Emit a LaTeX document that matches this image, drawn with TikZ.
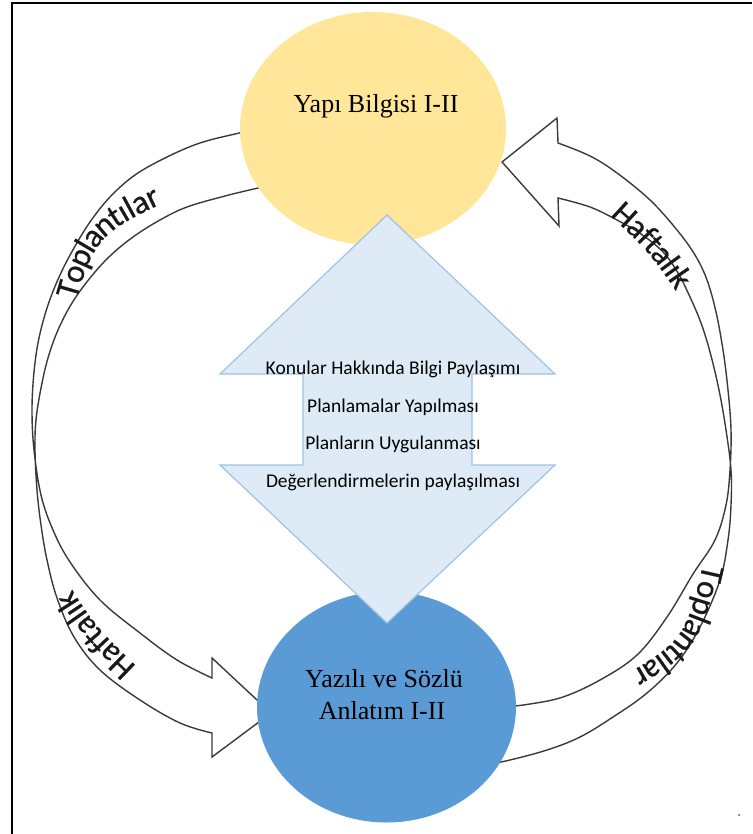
\documentclass[tikz,border=0pt]{standalone}
\usepackage{fontspec}
\setmainfont{Liberation Serif}
\newfontfamily\calfont{Carlito}
\newfontfamily\bandfont{Carlito}[FakeBold=0.6]
\usetikzlibrary{shapes.geometric,decorations.text}

\definecolor{sunny}{HTML}{FFE699}
\definecolor{ocean}{HTML}{5B9BD5}
\definecolor{paleblue}{HTML}{DEEBF7}
\definecolor{paleedge}{HTML}{9DC3E6}
\definecolor{inkline}{HTML}{3A3A3A}

\tikzset{
  course/.style={ellipse, inner sep=0pt, draw=none},
  coursetext/.style={anchor=base, inner sep=0pt, font=\fontsize{26}{30}\selectfont},
  steptext/.style={anchor=base, inner sep=0pt, font=\calfont\fontsize{19.5}{23}\selectfont},
  band/.style={draw=inkline, line width=1.4pt, line join=miter},
  bandword/.style={decorate, decoration={text along path, text align=center,
      raise=-11pt, text color=black!90}},
  sharearrow/.style={fill=paleblue, draw=paleedge, line width=1.2pt, line join=miter}
}

\begin{document}
\begin{tikzpicture}[x=1pt, y=-1pt]
\useasboundingbox (0,0) rectangle (752,834);

% frame
\draw[line width=2pt, black] (752,3) -- (12,3) -- (12,834);

% left curved arrow: from Yapı Bilgisi down to Yazılı ve Sözlü
\draw[band] plot[smooth, tension=0.6] coordinates {
    (255,130) (235,134) (200,143) (167,157) (135,175) (110,197) (90,222)
    (74,248) (60,275) (48,305) (39,338) (34,372) (32,410) (34,450) (41,495)
    (53,530) (70,562) (100,600) (140,633) (177,660) (212,678)}
  -- (212,658) -- (271,713) -- (212,757)
  -- plot[smooth, tension=0.6] coordinates {
    (212,733) (180,723) (140,700) (100,670) (74,637) (57,598) (47,560)
    (41,525) (37,490) (35,450) (36,420) (41,388) (48,358) (58,330) (72,303)
    (90,278) (110,256) (133,237) (160,220) (187,207) (225,196) (258,188) (275,184)};

% right curved arrow: from Yazılı ve Sözlü up to Yapı Bilgisi
\draw[band] plot[smooth, tension=0.6] coordinates {
    (505,707) (530,704) (563,697) (600,680) (637,655) (667,617) (693,574)
    (715,540) (726,505) (730,470) (731,430) (728,390) (723,350) (716,312)
    (707,280) (695,255) (677,230) (650,200) (617,173) (590,156) (558,143)}
  -- (557,118) -- (502,162) -- (559,226)
  -- plot[smooth, tension=0.6] coordinates {
    (558,198) (590,207) (617,220) (641,234) (663,252) (678,273) (690,297)
    (701,323) (710,352) (719,390) (726,430) (731,470) (731,505) (728,540)
    (720,580) (700,627) (677,663) (647,693) (613,717) (580,737) (547,750)
    (510,760) (490,764)};

% words along the arrows
\path[bandword, decoration={text={|\bandfont\fontsize{33}{38}\selectfont|Toplantılar}}]
  (56,334) .. controls (84,226) .. (192,178);
\path[bandword, decoration={text={|\bandfont\fontsize{33}{38}\selectfont|Haftalık}}]
  (152,696) .. controls (86,634) .. (46,568);
\path[bandword, decoration={text={|\bandfont\fontsize{33}{38}\selectfont|Haftalık}}]
  (600,192) .. controls (657,243) .. (698,304);
\path[bandword, decoration={text={|\bandfont\fontsize{33}{38}\selectfont|Toplantılar}}]
  (721,532) .. controls (697,648) .. (606,698);

% the two courses
\node[course, fill=sunny, minimum width=266pt, minimum height=233pt] (yapi) at (373,128.5) {};
\node[course, fill=ocean, minimum width=259pt, minimum height=231pt] (yazili) at (386.5,707) {};
\node[coursetext] (yapitext) at (376,113) {Yapı Bilgisi I-II};
\node[coursetext] (yazilitext1) at (384,687) {Yazılı ve Sözlü};
\node[coursetext] (yazilitext2) at (382,719) {Anlatım I-II};

% shared double arrow between the courses
\draw[sharearrow] (387,215) -- (555,374) -- (472,374) -- (472,465) -- (555,465)
  -- (387,623) -- (220,465) -- (303,465) -- (303,374) -- (220,374) -- cycle;
\node[steptext] (share) at (393,374) {Konular Hakkında Bilgi Paylaşımı};
\node[steptext] (plan) at (393,412) {Planlamalar Yapılması};
\node[steptext] (apply) at (393,449) {Planların Uygulanması};
\node[steptext] (review) at (393,487) {Değerlendirmelerin paylaşılması};

% small stray mark
\fill[black!70] (739,815) circle (1pt);
\end{tikzpicture}
\end{document}
